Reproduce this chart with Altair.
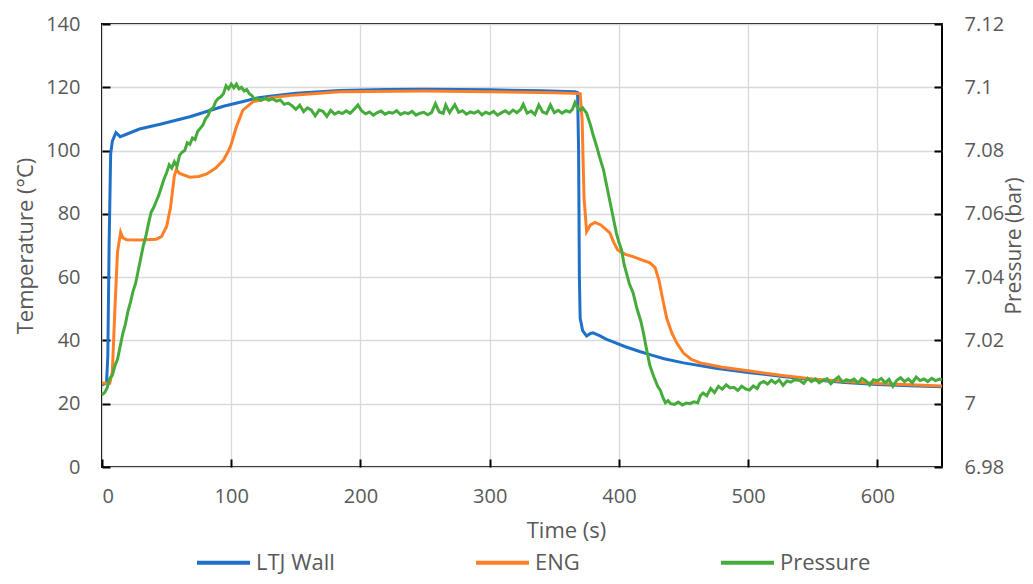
import altair as alt
import pandas as pd

# ---------------- data ----------------
series_names = ["LTJ Wall", "ENG", "Pressure"]
series_colors = ["#1F70C8", "#FF7F27", "#45AC3C"]

# (time s, temperature °C)
ltj_wall = [
    (0, 26), (3.5, 26.5), (4.5, 35), (5.5, 70), (6.7, 99), (8, 103), (10.8, 105.7),
    (14, 104.4), (18, 105), (29, 106.8), (45, 108.3), (68, 110.7), (94, 114),
    (110, 115.6), (120, 116.6), (130, 117.2), (150, 118.1), (184, 119.0), (220, 119.3),
    (250, 119.4), (300, 119.2), (340, 118.9), (366, 118.6), (368, 118.3), (368.8, 100),
    (369.4, 60), (370, 47), (372, 43), (375, 41.4), (378, 42.2), (380, 42.4), (385, 41.5),
    (390, 40.4), (395, 39.6), (405, 38), (416, 36.5), (424, 35.5), (435, 34.2), (450, 32.9),
    (475, 31.2), (500, 29.9), (525, 28.7), (550, 27.6), (575, 26.7), (600, 26.1),
    (625, 25.7), (650, 25.4),
]

eng = [
    (0, 26.5), (6, 26.5), (8, 30), (10, 50), (12, 68), (14.4, 74.2), (16, 72.5), (19, 71.8),
    (30, 71.7), (42, 72), (46, 72.8), (50, 76), (53, 82), (56, 92), (57.5, 94), (60, 92.8),
    (68, 91.6), (75, 91.8), (81, 92.6), (88, 94.5), (94, 97), (98, 100), (100, 102),
    (104, 107.5), (109, 112.8), (117, 115.5), (132, 116.8), (150, 117.6), (184, 118.6),
    (250, 118.8), (300, 118.6), (350, 118.3), (370, 118), (371.5, 110), (373, 85),
    (375, 74.4), (378, 76.5), (381.5, 77.3), (386, 76.5), (393, 74), (396, 71), (399, 68.6),
    (405, 67.2), (411, 66.5), (416, 65.7), (424, 64.5), (428, 63), (431, 59), (434, 52.8),
    (437, 47), (441, 42.3), (445, 39), (450, 36), (456, 34), (463, 32.9), (480, 31.5),
    (500, 30.4), (525, 29), (550, 27.8), (575, 27), (600, 26.4), (625, 26), (650, 25.6),
]

# (time s, pressure bar)
pressure = [
    (0, 7.0028), (2, 7.0035), (4, 7.0050), (6, 7.0080), (8, 7.0090), (10, 7.0120),
    (12, 7.0140), (14, 7.0180), (16, 7.0220), (18, 7.0250), (20, 7.0290), (22, 7.0320),
    (24, 7.0355), (26, 7.0380), (28, 7.0420), (30, 7.0460), (32, 7.0500), (34, 7.0530),
    (36, 7.0570), (38, 7.0605), (40, 7.0620), (42, 7.0640), (44, 7.0660), (46, 7.0685),
    (48, 7.0710), (50, 7.0730), (52, 7.0755), (54, 7.0745), (56, 7.0765), (58, 7.0750),
    (60, 7.0785), (62, 7.0795), (64, 7.0800), (66, 7.0825), (68, 7.0820), (70, 7.0840),
    (72, 7.0835), (74, 7.0860), (76, 7.0870), (78, 7.0880), (80, 7.0900), (82, 7.0910),
    (84, 7.0930), (86, 7.0935), (88, 7.0955), (90, 7.0965), (92, 7.0970), (94, 7.0980),
    (96, 7.1005), (98, 7.0995), (100, 7.1010), (102, 7.0998), (104, 7.1010), (106, 7.0995),
    (108, 7.1000), (110, 7.0988), (112, 7.0993), (114, 7.0980), (116, 7.0974), (118, 7.0962),
    (120, 7.0965), (123, 7.0958), (126, 7.0966), (129, 7.0959), (132, 7.0964), (135, 7.0956),
    (138, 7.0960), (141, 7.0946), (144, 7.0950), (147, 7.0942), (150, 7.0930), (153, 7.0943),
    (156, 7.0923), (159, 7.0935), (162, 7.0928), (165, 7.0910), (168, 7.0928), (171, 7.0924),
    (174, 7.0908), (177, 7.0927), (180, 7.0915), (183, 7.0922), (186, 7.0917), (189, 7.0926),
    (192, 7.0918), (195, 7.0930), (198, 7.0944), (201, 7.0925), (204, 7.0916), (207, 7.0922),
    (210, 7.0912), (213, 7.0920), (216, 7.0925), (219, 7.0915), (222, 7.0921), (225, 7.0918),
    (228, 7.0926), (231, 7.0914), (234, 7.0920), (237, 7.0917), (240, 7.0924), (243, 7.0912),
    (246, 7.0918), (249, 7.0921), (252, 7.0913), (255, 7.0920), (258, 7.0948), (261, 7.0922),
    (264, 7.0918), (266, 7.0944), (269, 7.0920), (273, 7.0945), (276, 7.0921), (279, 7.0926),
    (282, 7.0915), (285, 7.0922), (288, 7.0918), (291, 7.0925), (294, 7.0913), (297, 7.0921),
    (300, 7.0916), (303, 7.0924), (306, 7.0912), (309, 7.0919), (312, 7.0926), (315, 7.0917),
    (318, 7.0928), (321, 7.0920), (324, 7.0930), (326, 7.0946), (329, 7.0918), (332, 7.0925),
    (335, 7.0914), (338, 7.0944), (341, 7.0922), (344, 7.0917), (347, 7.0944), (350, 7.0920),
    (353, 7.0927), (356, 7.0918), (359, 7.0926), (362, 7.0922), (364, 7.0930), (366, 7.0952),
    (368, 7.0935), (370, 7.0928), (372, 7.0935), (375, 7.0918), (378, 7.0880), (380, 7.0850),
    (383, 7.0810), (385, 7.0780), (388, 7.0740), (390, 7.0700), (393, 7.0640), (396, 7.0580),
    (398, 7.0540), (400, 7.0510), (402, 7.0486), (404, 7.0440), (406, 7.0410), (408, 7.0380),
    (411, 7.0350), (414, 7.0300), (417, 7.0260), (419, 7.0223), (421, 7.0180), (424, 7.0120),
    (427, 7.0085), (430, 7.0055), (432, 7.0043), (434, 7.0020), (436, 7.0003), (438, 7.0010),
    (440, 7.0000), (443, 6.9998), (446, 7.0005), (449, 6.9996), (452, 7.0002), (455, 7.0000),
    (458, 7.0006), (461, 7.0003), (463, 7.0025), (465, 7.0034), (468, 7.0025), (471, 7.0048),
    (474, 7.0035), (477, 7.0055), (480, 7.0046), (483, 7.0060), (486, 7.0050), (489, 7.0052),
    (492, 7.0042), (495, 7.0055), (498, 7.0047), (501, 7.0043), (504, 7.0056), (507, 7.0048),
    (509, 7.0064), (512, 7.0070), (515, 7.0062), (518, 7.0074), (521, 7.0065), (524, 7.0075),
    (527, 7.0058), (530, 7.0072), (533, 7.0068), (536, 7.0076), (540, 7.0073), (543, 7.0064),
    (546, 7.0080), (549, 7.0070), (552, 7.0078), (555, 7.0066), (558, 7.0075), (561, 7.0079),
    (564, 7.0063), (567, 7.0075), (570, 7.0085), (573, 7.0068), (576, 7.0076), (579, 7.0072),
    (582, 7.0078), (585, 7.0065), (588, 7.0080), (591, 7.0073), (594, 7.0059), (597, 7.0076),
    (600, 7.0072), (603, 7.0080), (606, 7.0066), (609, 7.0077), (612, 7.0055), (615, 7.0074),
    (618, 7.0082), (621, 7.0070), (624, 7.0078), (627, 7.0066), (630, 7.0084), (633, 7.0073),
    (636, 7.0078), (639, 7.0070), (642, 7.0080), (645, 7.0073), (648, 7.0078), (650, 7.0075),
]

x_ticks = [0, 100, 200, 300, 400, 500, 600]
temp_ticks = [0, 20, 40, 60, 80, 100, 120, 140]
press_ticks = [6.98, 7.0, 7.02, 7.04, 7.06, 7.08, 7.1, 7.12]

# ---------------- tables ----------------
temp_df = pd.concat([
    pd.DataFrame(ltj_wall, columns=["t", "v"]).assign(series="LTJ Wall", k=0),
    pd.DataFrame(eng, columns=["t", "v"]).assign(series="ENG", k=1),
], ignore_index=True)
press_df = pd.DataFrame(pressure, columns=["t", "v"]).assign(series="Pressure", k=2)

W, H = 840, 443
FONT = "Open Sans"
GRAY = "#595959"

xscale = alt.Scale(domain=[0, 650], nice=False, zero=False)
tscale = alt.Scale(domain=[0, 140], nice=False)
pscale = alt.Scale(domain=[6.98, 7.12], nice=False, zero=False)

legend = alt.Legend(
    orient="none", legendX=93, legendY=510, direction="horizontal", title=None,
    symbolType="stroke", symbolSize=2809, symbolStrokeWidth=4,
    labelFont=FONT, labelFontSize=22, labelColor=GRAY, labelOffset=4,
    columnPadding=133, labelLimit=400,
)
color = alt.Color("series:N", scale=alt.Scale(domain=series_names, range=series_colors),
                  legend=legend)

inner = dict(labels=False, grid=False, domain=False, ticks=True, tickSize=8,
             tickColor="black", tickWidth=2, title=None)

# invisible layers that only carry inward-pointing tick marks
ticks_temp = alt.Chart(temp_df).mark_line(opacity=0).encode(
    x=alt.X("t:Q", scale=xscale,
            axis=alt.Axis(orient="top", offset=-H, values=x_ticks, **inner)),
    y=alt.Y("v:Q", scale=tscale,
            axis=alt.Axis(orient="right", offset=-W, values=temp_ticks, **inner)),
)
ticks_press = alt.Chart(press_df).mark_line(opacity=0).encode(
    x=alt.X("t:Q", scale=xscale, axis=None),
    y=alt.Y("v:Q", scale=pscale,
            axis=alt.Axis(orient="left", offset=-W, values=press_ticks, **inner)),
)

temp_lines = alt.Chart(temp_df).mark_line(strokeWidth=3).encode(
    x=alt.X("t:Q", scale=xscale,
            axis=alt.Axis(orient="bottom", values=x_ticks, title="Time (s)", grid=True,
                          ticks=False, tickSize=0, labelPadding=19,
                          titleX=464, titleY=63, titleBaseline="middle", titleAlign="center")),
    y=alt.Y("v:Q", scale=tscale,
            axis=alt.Axis(orient="left", values=temp_ticks, title="Temperature (°C)", grid=True,
                          ticks=False, tickSize=0, labelPadding=22,
                          titleX=-77, titleY=221.5, titleAngle=270,
                          titleBaseline="middle", titleAlign="center")),
    color=color,
    order="k:Q",
)

press_line = alt.Chart(press_df).mark_line(strokeWidth=3).encode(
    x=alt.X("t:Q", scale=xscale, axis=None),
    y=alt.Y("v:Q", scale=pscale,
            axis=alt.Axis(orient="right", values=press_ticks, title="Pressure (bar)", grid=False,
                          format="~g", ticks=False, tickSize=0, labelPadding=22,
                          titleFontSize=21, titleX=72, titleY=221.5, titleAngle=270,
                          titleBaseline="middle", titleAlign="center")),
    color=color,
)

chart = (
    alt.layer(ticks_temp, ticks_press, temp_lines, press_line)
    .resolve_scale(y="independent")
    .resolve_axis(x="independent", y="independent")
    .properties(
        width=W, height=H,
        padding={"left": 94, "top": 16, "right": 83, "bottom": 109},
        autosize=alt.AutoSizeParams(type="none"),
    )
    .configure_view(stroke="black", strokeWidth=2)
    .configure_axis(
        labelFont=FONT, titleFont=FONT, labelColor=GRAY, titleColor=GRAY,
        labelFontSize=20, titleFontSize=22, titleFontWeight="normal",
        gridColor="#D9D9D9", gridWidth=1.3, domain=False,
    )
)

chart.save("out.html", embed_options={"renderer": "svg", "actions": False})
